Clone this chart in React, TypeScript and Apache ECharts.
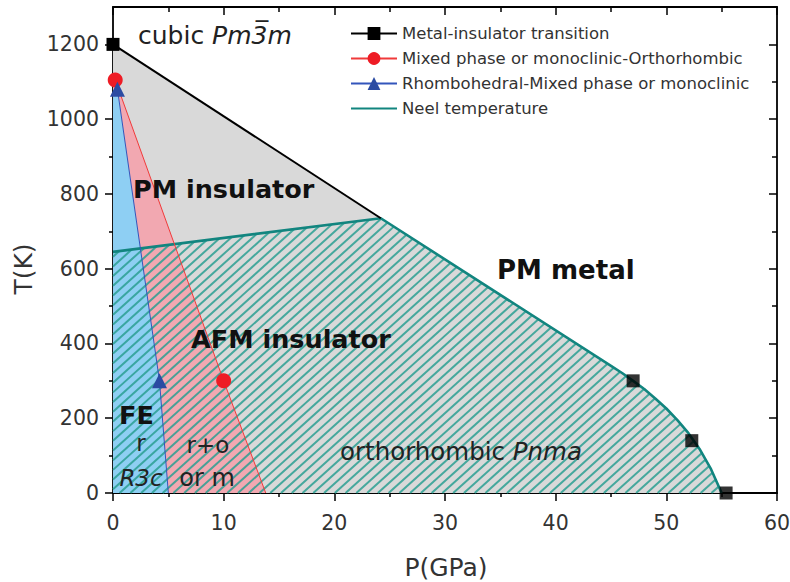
import React, { useEffect, useRef } from 'react';
import * as echarts from 'echarts';

const FONT = 'DejaVu Sans';

// axis ticks
const xTicks = [0, 10, 20, 30, 40, 50, 60];
const xMinorTicks = [5, 15, 25, 35, 45, 55];
const yTicks = [0, 200, 400, 600, 800, 1000, 1200];
const yMinorTicks = [100, 300, 500, 700, 900, 1100];

// series names
const seriesNames = [
  'Metal-insulator transition',
  'Mixed phase or monoclinic-Orthorhombic',
  'Rhombohedral-Mixed phase or monoclinic',
  'Neel temperature',
];

// data (P in GPa, T in K)
const mitLine = [[0, 1200], [24.2, 735]];
const mitPoints = [[47, 300], [52.3, 140], [55.4, 0]];
const moPoints = [[0.2, 1105], [10, 300], [13.8, 0]];
const rmPoints = [[0.4, 1080], [4.2, 300], [5, 0]];
const neelPoints = [
  [0, 645], [24.2, 735], [45, 340], [46, 321], [47, 300], [48, 278],
  [49, 253], [50, 226], [51, 195], [52, 160], [53, 118], [54, 66], [55, 0],
];

function hatchSegments(poly: number[][], angleDeg: number, spacing: number) {
  const a = (angleDeg * Math.PI) / 180;
  const d = [Math.cos(a), -Math.sin(a)];
  const n = [Math.sin(a), Math.cos(a)];
  const proj = poly.map((p) => p[0] * n[0] + p[1] * n[1]);
  const cmin = Math.min(...proj);
  const cmax = Math.max(...proj);
  const segs: number[][][] = [];
  for (let c = Math.ceil(cmin / spacing) * spacing; c <= cmax; c += spacing) {
    const p0 = [n[0] * c, n[1] * c];
    const ts: number[] = [];
    for (let i = 0; i < poly.length; i++) {
      const A = poly[i];
      const B = poly[(i + 1) % poly.length];
      const fa = A[0] * n[0] + A[1] * n[1] - c;
      const fb = B[0] * n[0] + B[1] * n[1] - c;
      if ((fa <= 0 && fb > 0) || (fa > 0 && fb <= 0)) {
        const u = fa / (fa - fb);
        const P = [A[0] + u * (B[0] - A[0]), A[1] + u * (B[1] - A[1])];
        ts.push((P[0] - p0[0]) * d[0] + (P[1] - p0[1]) * d[1]);
      }
    }
    if (ts.length >= 2) {
      const t0 = Math.min(...ts);
      const t1 = Math.max(...ts);
      segs.push([
        [p0[0] + t0 * d[0], p0[1] + t0 * d[1]],
        [p0[0] + t1 * d[0], p0[1] + t1 * d[1]],
      ]);
    }
  }
  return segs;
}

const axisLineStyle = { color: '#000', width: 1.8 };

function makeX(position: string, ticks: number[], len: number, inside: boolean, main: boolean) {
  return {
    type: 'value',
    min: 0,
    max: 60,
    position,
    axisLine: { show: main, onZero: false, lineStyle: axisLineStyle },
    axisTick: { show: true, customValues: ticks, length: len, inside, lineStyle: { color: '#000', width: 1.5 } },
    axisLabel: main && position === 'bottom'
      ? { show: true, customValues: ticks, fontSize: 20.5, color: '#333', margin: 19, fontFamily: FONT, formatter: (v: number) => String(v) }
      : { show: false },
    splitLine: { show: false },
    minorTick: { show: false },
  };
}

function makeY(position: string, ticks: number[], len: number, inside: boolean, main: boolean) {
  return {
    type: 'value',
    min: 0,
    max: 1300,
    position,
    axisLine: { show: main, onZero: false, lineStyle: axisLineStyle },
    axisTick: { show: true, customValues: ticks, length: len, inside, lineStyle: { color: '#000', width: 1.5 } },
    axisLabel: main && position === 'left'
      ? { show: true, customValues: ticks, fontSize: 20.5, color: '#333', margin: 14, fontFamily: FONT, formatter: (v: number) => String(v) }
      : { show: false },
    splitLine: { show: false },
    minorTick: { show: false },
  };
}

const txt = (x: number, y: number, style: any, extra: any = {}) => ({
  type: 'text', x, y, z: 100, silent: true, style, ...extra,
});

export default function App() {
  const ref = useRef<HTMLDivElement>(null);

  useEffect(() => {
    if (!ref.current) return;
    const chart = echarts.init(ref.current, undefined, { renderer: 'svg' });

    const grayPoly = [...mitLine, ...neelPoints.slice(2), [0, 0]];
    const hatchPoly = [...neelPoints, [0, 0]];
    const bluePoly = [[0, rmPoints[0][1]], ...rmPoints, [0, 0]];
    const pinkPoly = [[0, moPoints[0][1]], ...moPoints, ...rmPoints.slice().reverse(), [0, rmPoints[0][1]]];

    const bold = { fontFamily: FONT, fontSize: 25.5, fontWeight: 'bold', fill: '#111', verticalAlign: 'middle' };
    const norm = { fontFamily: FONT, fontSize: 23, fill: '#222', align: 'center', verticalAlign: 'middle' };
    const richNorm = (size: number) => ({
      n: { fontFamily: FONT, fontSize: size, fill: '#222' },
      i: { fontFamily: FONT, fontSize: size, fontStyle: 'italic', fill: '#222' },
    });

    const option: any = {
      animation: false,
      backgroundColor: '#fff',
      grid: { left: 113, right: 13, top: 7, bottom: 89, containLabel: false, outerBoundsMode: 'none' },
      xAxis: [
        makeX('bottom', xTicks, 8, false, true),
        makeX('bottom', xMinorTicks, 4, false, false),
        makeX('top', xTicks, 8, true, true),
        makeX('top', xMinorTicks, 5, true, false),
      ],
      yAxis: [
        makeY('left', yTicks, 8, false, true),
        makeY('left', yMinorTicks, 4, false, false),
        makeY('right', yTicks, 8, true, true),
        makeY('right', yMinorTicks, 5, true, false),
      ],
      legend: {
        data: [
          seriesNames[0],
          seriesNames[1],
          seriesNames[2],
          { name: seriesNames[3], itemStyle: { opacity: 0 } },
        ],
        orient: 'vertical',
        left: 345,
        top: 20,
        itemWidth: 46,
        itemHeight: 16,
        itemGap: 8,
        padding: 5,
        selectedMode: false,
        textStyle: { fontFamily: FONT, fontSize: 16.5, color: '#333' },
      },
      series: [
        {
          type: 'custom',
          coordinateSystem: 'cartesian2d',
          xAxisIndex: 0,
          yAxisIndex: 0,
          silent: true,
          data: [[0, 0]],
          renderItem: (_params: any, api: any) => {
            const px = (pts: number[][]) => pts.map((p) => api.coord(p));
            const hatch = hatchSegments(px(hatchPoly), 42, 7.2);
            const children: any[] = [
              { type: 'polygon', shape: { points: px(grayPoly) }, style: { fill: '#d9d9d9' } },
              { type: 'polygon', shape: { points: px(bluePoly) }, style: { fill: '#8ecff3' } },
              { type: 'polygon', shape: { points: px(pinkPoly) }, style: { fill: '#f2a8b1' } },
            ];
            hatch.forEach((s) => {
              children.push({
                type: 'line',
                shape: { x1: s[0][0], y1: s[0][1], x2: s[1][0], y2: s[1][1] },
                style: { stroke: '#2a9f92', lineWidth: 2, opacity: 0.85 },
              });
            });
            return { type: 'group', children };
          },
        },
        {
          name: seriesNames[0],
          type: 'line',
          data: [mitLine[0], { value: mitLine[1], symbol: 'none' }],
          symbol: 'rect',
          symbolSize: 13,
          itemStyle: { color: '#000' },
          lineStyle: { color: '#000', width: 2 },
          z: 5,
        },
        {
          name: seriesNames[0],
          type: 'scatter',
          data: mitPoints,
          symbol: 'rect',
          symbolSize: 13,
          itemStyle: { color: '#000' },
          z: 6,
        },
        {
          name: seriesNames[1],
          type: 'line',
          data: [moPoints[0], moPoints[1], { value: moPoints[2], symbol: 'none' }],
          symbol: 'circle',
          symbolSize: 15,
          itemStyle: { color: '#ee1c25' },
          lineStyle: { color: '#f03a3a', width: 1 },
          z: 5,
        },
        {
          name: seriesNames[2],
          type: 'line',
          data: [rmPoints[0], rmPoints[1], { value: rmPoints[2], symbol: 'none' }],
          symbol: 'triangle',
          symbolSize: 15,
          itemStyle: { color: '#2b4ba3' },
          lineStyle: { color: '#3355bb', width: 1 },
          z: 5,
        },
        {
          name: seriesNames[3],
          type: 'line',
          data: neelPoints,
          symbol: 'none',
          itemStyle: { color: '#12857f' },
          lineStyle: { color: '#12857f', width: 2.6 },
          z: 4,
        },
      ],
      graphic: [
        txt(138, 35, { text: '{n|cubic }{i|Pm3\u0305m}', verticalAlign: 'middle', rich: richNorm(25) }),
        txt(133, 189, { ...bold, text: 'PM insulator' }),
        txt(497, 270, { ...bold, fontSize: 26, text: 'PM metal' }),
        txt(191, 339, { ...bold, text: 'AFM insulator' }),
        txt(119, 415, { ...bold, text: 'FE' }),
        txt(141, 443, { ...norm, text: 'r' }),
        txt(141, 478, { ...norm, fontSize: 23, fontStyle: 'italic', text: 'R3c' }),
        txt(208, 445, { ...norm, text: 'r+o' }),
        txt(207, 478, { ...norm, fontSize: 24, text: 'or m' }),
        txt(340, 451, { text: '{n|orthorhombic }{i|Pnma}', verticalAlign: 'middle', rich: richNorm(24.5) }),
        txt(446, 567, { ...norm, fontSize: 25, fill: '#333', text: 'P(GPa)' }),
        txt(23, 269, { ...norm, fontSize: 25, fill: '#333', text: 'T(K)' }, { rotation: Math.PI / 2 }),
      ],
    };

    chart.setOption(option);
    return () => chart.dispose();
  }, []);

  return (
    <div
      ref={ref}
      style={{ position: 'absolute', left: 0, top: 0, width: 790, height: 582 }}
    />
  );
}
